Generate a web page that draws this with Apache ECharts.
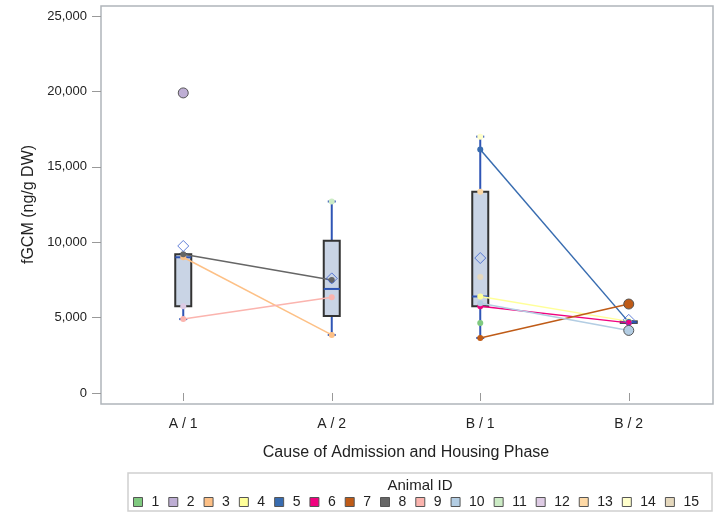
<!DOCTYPE html>
<html>
<head>
<meta charset="utf-8">
<script src="https://cdn.jsdelivr.net/npm/echarts@6/dist/echarts.min.js"></script>
<style>
  html, body { margin: 0; padding: 0; background: #fff; }
  #chart { width: 720px; height: 518px; }
</style>
</head>
<body>
<div id="chart"></div>
<script>
// categories on the x axis
var categories = ['A / 1', 'A / 2', 'B / 1', 'B / 2'];
var yTicks = [0, 5000, 10000, 15000, 20000, 25000];

// box stats per category: [whisker low, Q1, median, Q3, whisker high]
var boxStats = [
    [4900, 5750, 9000, 9200, 9200],
    [3850, 5100, 6900, 10100, 12700],
    [3650, 5750, 6400, 13350, 17000],
    [4650, 4650, 4700, 4750, 4750]
];
var means = [9750, 7600, 8950, 4850];

// animal values per category (null = no sample)
var animalIds = ['1','2','3','4','5','6','7','8','9','10','11','12','13','14','15'];
var animalColors = ['#7fc97f','#beaed4','#fdc086','#ffff99','#386cb0','#f0027f','#bf5b17','#666666',
                    '#fbb4ae','#b3cde3','#ccebc5','#decbe4','#fed9a6','#ffffcc','#e5d8bd'];
var a1  = [null, null, 4650, null];
var a2  = [19900, null, null, null];
var a3  = [9000, 3850, null, null];
var a4  = [null, null, 6400, 4750];
var a5  = [null, null, 16150, 4700];
var a6  = [null, null, 5750, 4650];
var a7  = [null, null, 3650, 5900];
var a8  = [9200, 7500, null, null];
var a9  = [4900, 6350, null, null];
var a10 = [null, null, 5950, 4150];
var a11 = [null, 12700, null, null];
var a12 = [5750, null, null, null];
var a13 = [null, null, 13350, null];
var a14 = [null, null, 17000, null];
var a15 = [null, null, 7700, null];
var animalValues = [a1,a2,a3,a4,a5,a6,a7,a8,a9,a10,a11,a12,a13,a14,a15];
// outliers: [animal index, category index]
var outliers = [[1, 0], [6, 3], [9, 3]];

var FONT = 'Liberation Sans, Arial, sans-serif';
var whiskerColor = '#2f55b5';

function isOutlier(ai, ci) {
    for (var k = 0; k < outliers.length; k++) {
        if (outliers[k][0] === ai && outliers[k][1] === ci) return true;
    }
    return false;
}

function renderBox(params, api) {
    var x = api.value(0);
    var lo = api.coord([x, api.value(1)]);
    var q1 = api.coord([x, api.value(2)]);
    var md = api.coord([x, api.value(3)]);
    var q3 = api.coord([x, api.value(4)]);
    var hi = api.coord([x, api.value(5)]);
    var cx = lo[0], hw = 8, cap = 4;
    var wStyle = { stroke: whiskerColor, lineWidth: 2 };
    return {
        type: 'group',
        children: [
            { type: 'line', shape: { x1: cx, y1: lo[1], x2: cx, y2: q1[1] }, style: wStyle },
            { type: 'line', shape: { x1: cx, y1: q3[1], x2: cx, y2: hi[1] }, style: wStyle },
            { type: 'line', shape: { x1: cx - cap, y1: lo[1], x2: cx + cap, y2: lo[1] }, style: wStyle },
            { type: 'line', shape: { x1: cx - cap, y1: hi[1], x2: cx + cap, y2: hi[1] }, style: wStyle },
            { type: 'rect', shape: { x: cx - hw, y: q3[1], width: hw * 2, height: q1[1] - q3[1] },
              style: { fill: '#c9d4e5', stroke: '#333333', lineWidth: 2 } },
            { type: 'line', shape: { x1: cx - hw, y1: md[1], x2: cx + hw, y2: md[1] }, style: wStyle }
        ]
    };
}

var series = [{
    type: 'custom',
    name: 'box',
    renderItem: renderBox,
    encode: { x: 0, y: [1, 2, 3, 4, 5] },
    data: boxStats.map(function (s, i) { return [i].concat(s); }),
    z: 1
}];

animalIds.forEach(function (id, ai) {
    var data = animalValues[ai].map(function (v, ci) {
        if (v !== null && isOutlier(ai, ci)) {
            return { value: v, symbolSize: 10, itemStyle: { borderColor: '#555', borderWidth: 1 } };
        }
        return v;
    });
    series.push({
        type: 'line',
        name: id,
        data: data,
        symbol: 'circle',
        symbolSize: 6,
        showSymbol: true,
        connectNulls: false,
        itemStyle: { color: animalColors[ai] },
        lineStyle: { color: animalColors[ai], width: 1.5 },
        z: 3
    });
});

series.push({
    type: 'scatter',
    name: 'Mean',
    data: means,
    symbol: 'diamond',
    symbolSize: 11,
    itemStyle: { color: 'rgba(0,0,0,0)', borderColor: '#3a5fcd', borderWidth: 1 },
    z: 4
});

var myChart = echarts.init(document.getElementById('chart'));
var option = {
    animation: false,
    backgroundColor: '#fff',
    textStyle: { fontFamily: FONT },
    grid: { left: 109, right: 17, top: 16, bottom: 125 },
    xAxis: {
        type: 'category',
        data: categories,
        offset: 11,
        axisLine: { show: false },
        axisTick: { show: true, alignWithLabel: true, length: 8, lineStyle: { color: '#999' } },
        axisLabel: { fontSize: 14, color: '#222', margin: 13, fontFamily: FONT },
        name: 'Cause of Admission and Housing Phase',
        nameLocation: 'middle',
        nameGap: 41,
        nameTextStyle: { fontSize: 16, color: '#222', fontFamily: FONT }
    },
    yAxis: {
        type: 'value',
        min: yTicks[0],
        max: yTicks[yTicks.length - 1],
        interval: 5000,
        offset: 8,
        axisLine: { show: false },
        axisTick: { show: true, length: 9, lineStyle: { color: '#999' } },
        splitLine: { show: false },
        axisLabel: {
            fontSize: 13, color: '#222', margin: 14, fontFamily: FONT,
            formatter: function (v) { return v.toLocaleString('en-US'); }
        },
        name: 'fGCM (ng/g DW)',
        nameLocation: 'middle',
        nameGap: 63,
        nameTextStyle: { fontSize: 16, color: '#222', fontFamily: FONT }
    },
    legend: {
        data: animalIds,
        left: 133,
        top: 495,
        width: 600,
        padding: 0,
        icon: 'rect',
        itemWidth: 9,
        itemHeight: 9,
        itemGap: 9,
        itemStyle: { borderColor: '#555', borderWidth: 1 },
        textStyle: { fontSize: 14, color: '#222', fontFamily: FONT, padding: [0, 0, 0, 4] },
        selectedMode: false
    },
    graphic: [
        { type: 'rect', silent: true, z: 0,
          shape: { x: 101, y: 6, width: 612, height: 398 },
          style: { fill: 'none', stroke: '#b0b5ba', lineWidth: 1.5 } },
        { type: 'rect', silent: true,
          shape: { x: 128, y: 473, width: 584, height: 38 },
          style: { fill: 'none', stroke: '#d0d0d0', lineWidth: 1.5 } },
        { type: 'text', silent: true, x: 420, y: 478,
          style: { text: 'Animal ID', fontSize: 15, fontFamily: FONT, fill: '#222', align: 'center' } }
    ],
    series: series
};
myChart.setOption(option);
</script>
</body>
</html>
